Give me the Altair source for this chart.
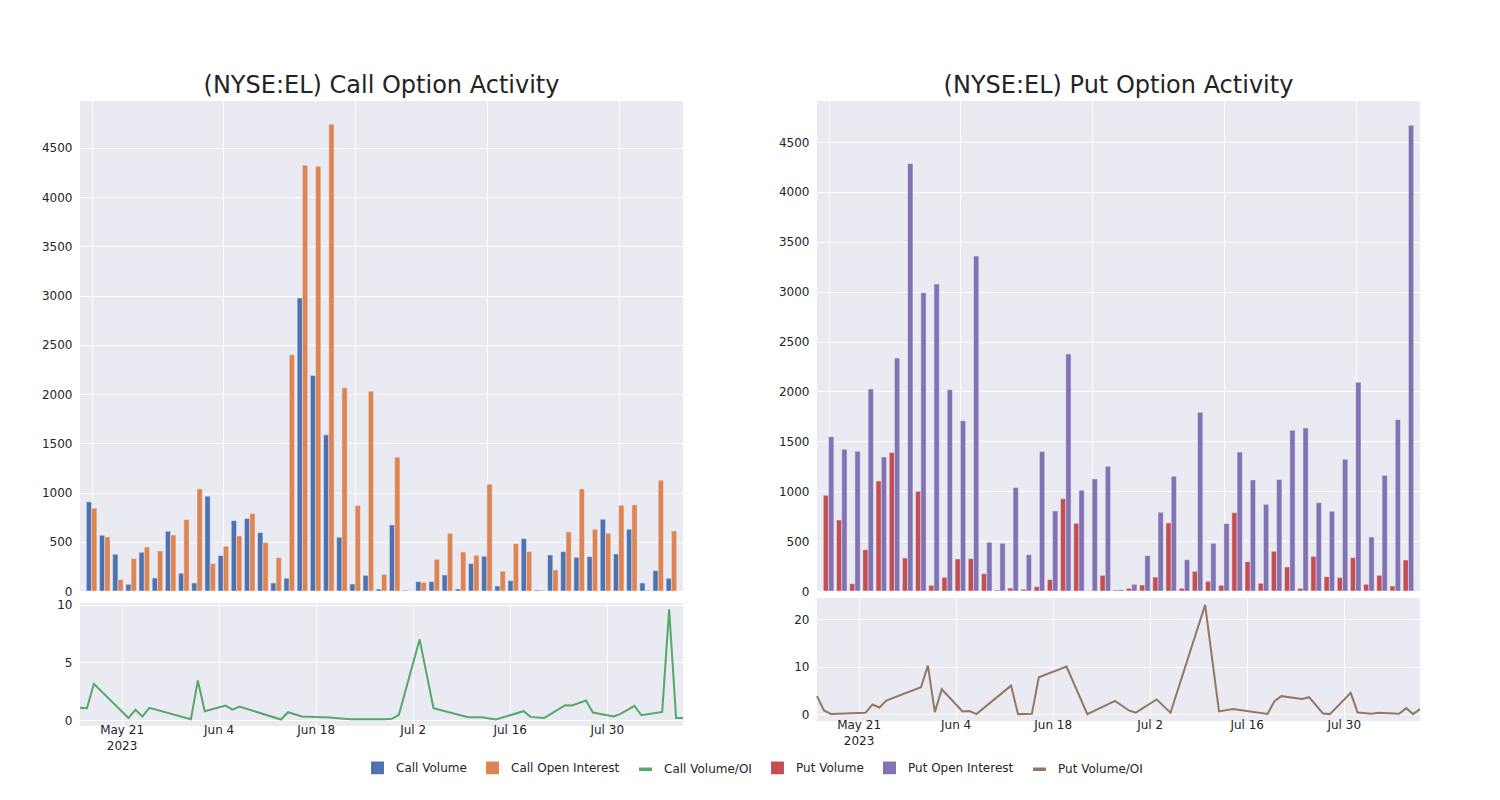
import altair as alt
import pandas as pd

FONT = "DejaVu Sans"
TXT = "#242424"

series_names = ["Call Volume", "Call Open Interest", "Call Volume/OI",
                "Put Volume", "Put Open Interest", "Put Volume/OI"]
series_colors = ["#4C72B0", "#DD8452", "#55A868", "#C44E52", "#8172B3", "#937860"]

call_volume = [905, 566, 373, 68, 393, 132, 607, 180, 81, 963, 359, 715, 736, 593, 81,
               129, 2976, 2190, 1586, 546, 71, 159, 20, 671, 7, 95, 95, 163, 20, 278,
               353, 51, 105, 532, 10, 366, 400, 342, 349, 729, 376, 627, 81, 207, 129]
call_oi = [841, 549, 115, 329, 447, 407, 569, 725, 1037, 278, 454, 559, 786, 492, 339,
           2400, 4325, 4315, 4742, 2064, 868, 2030, 169, 1359, 1, 88, 322, 586, 397, 363,
           1085, 200, 481, 400, 8, 214, 600, 1037, 627, 586, 871, 875, 8, 1125, 610]
put_volume = [959, 712, 73, 414, 1103, 1387, 331, 999, 57, 137, 321, 324, 174, 10, 30,
              17, 43, 114, 925, 678, 3, 157, 10, 27, 60, 140, 682, 27, 197, 97,
              57, 785, 294, 77, 398, 241, 27, 347, 144, 134, 334, 67, 157, 50, 311]
put_oi = [1547, 1420, 1400, 2025, 1343, 2335, 4283, 2990, 3077, 2018, 1707, 3358, 488, 478, 1036,
          364, 1397, 802, 2376, 1009, 1123, 1250, 13, 67, 354, 789, 1150, 314, 1791, 478,
          675, 1393, 1113, 869, 1116, 1610, 1634, 885, 799, 1320, 2092, 541, 1159, 1717, 4668]

call_ratio_dates = ["2023-05-15", "2023-05-16", "2023-05-17", "2023-05-22", "2023-05-23",
                    "2023-05-24", "2023-05-25", "2023-05-31", "2023-06-01", "2023-06-02",
                    "2023-06-05", "2023-06-06", "2023-06-07", "2023-06-13", "2023-06-14",
                    "2023-06-16", "2023-06-20", "2023-06-23", "2023-06-28", "2023-06-29",
                    "2023-06-30", "2023-07-03", "2023-07-05", "2023-07-10", "2023-07-12",
                    "2023-07-14", "2023-07-18", "2023-07-19", "2023-07-21", "2023-07-24",
                    "2023-07-25", "2023-07-27", "2023-07-28", "2023-07-31", "2023-08-01",
                    "2023-08-03", "2023-08-04", "2023-08-07", "2023-08-08", "2023-08-09",
                    "2023-08-10"]
call_ratio = [1.07, 1.04, 3.15, 0.2, 0.9, 0.32, 1.07, 0.08, 3.44, 0.78,
              1.27, 0.92, 1.18, 0.06, 0.69, 0.32, 0.23, 0.09, 0.09, 0.12,
              0.46, 7.0, 1.04, 0.26, 0.26, 0.06, 0.78, 0.29, 0.2, 1.3,
              1.27, 1.7, 0.66, 0.32, 0.55, 1.24, 0.43, 0.72, 9.6, 0.2, 0.2]

put_ratio_dates = ["2023-05-15", "2023-05-16", "2023-05-17", "2023-05-22", "2023-05-23",
                   "2023-05-24", "2023-05-25", "2023-05-30", "2023-05-31", "2023-06-01",
                   "2023-06-02", "2023-06-05", "2023-06-06", "2023-06-07", "2023-06-12",
                   "2023-06-13", "2023-06-15", "2023-06-16", "2023-06-20", "2023-06-23",
                   "2023-06-27", "2023-06-29", "2023-06-30", "2023-07-03", "2023-07-05",
                   "2023-07-10", "2023-07-12", "2023-07-14", "2023-07-19", "2023-07-20",
                   "2023-07-21", "2023-07-24", "2023-07-25", "2023-07-27", "2023-07-28",
                   "2023-07-31", "2023-08-01", "2023-08-03", "2023-08-04", "2023-08-07",
                   "2023-08-08", "2023-08-09", "2023-08-10"]
put_ratio = [3.78, 0.77, 0.05, 0.28, 2.03, 1.4, 2.87, 5.66, 10.2, 0.42,
             5.24, 0.56, 0.63, 0.0, 6.0, 0.0, 0.05, 7.76, 10.0, 0.0,
             2.8, 0.77, 0.3, 3.1, 0.3, 23.0, 0.56, 1.05, 0.05, 2.73,
             3.78, 3.2, 3.57, 0.14, 0.0, 4.48, 0.35, 0.1, 0.28, 0.07,
             1.26, 0.0, 1.05]

tick_dates = [(2023, 5, 21), (2023, 6, 4), (2023, 6, 18), (2023, 7, 2), (2023, 7, 16), (2023, 7, 30)]
bar_grid_idx = [0, 10, 20, 30, 40]
bar_ticks = [0, 500, 1000, 1500, 2000, 2500, 3000, 3500, 4000, 4500]

W = 603
H_TOP = 490
H_BOT = 123
GROUP = 0.8  # share of each category taken by its two bars

color_scale = alt.Scale(domain=series_names, range=series_colors)
legend = alt.Legend(
    title=None, orient="none", direction="horizontal", legendX=291, legendY=660,
    symbolSize=130, labelOffset=12, columnPadding=16,
    symbolType={"expr": "indexof(datum.value, 'OI') >= 0 ? 'M-1,-0.17H1V0.17H-1Z' : 'square'"},
    labelFont=FONT, labelFontSize=12, labelColor=TXT,
)


def bar_panel(vol, oi, names, top, title):
    n = len(vol)
    df = pd.DataFrame({
        "idx": list(range(n)) * 2,
        "k": [0] * n + [1] * n,
        "series": [names[0]] * n + [names[1]] * n,
        "value": vol + oi,
    })
    half = GROUP / 2
    return alt.Chart(df).transform_calculate(
        x0=f"datum.idx - {half} + datum.k * {half}",
        x1=f"datum.idx + datum.k * {half}",
    ).mark_bar(orient="vertical", stroke="#EAEAF2", strokeWidth=0.5).encode(
        x=alt.X("x0:Q", title=None,
                scale=alt.Scale(domain=[-0.5, n - 0.5], nice=False, zero=False),
                axis=alt.Axis(values=bar_grid_idx, labels=False, ticks=False, domain=False,
                              grid=True, labelPadding=0, minExtent=0, maxExtent=0)),
        x2="x1:Q",
        y=alt.Y("value:Q", title=None, scale=alt.Scale(domain=[0, top], nice=False),
                axis=alt.Axis(values=bar_ticks, format="d")),
        y2=alt.datum(0),
        color=alt.Color("series:N", scale=color_scale, legend=legend),
    ).properties(
        width=W, height=H_TOP,
        title=alt.TitleParams(title, font=FONT, fontSize=24, fontWeight="normal",
                              color=TXT, anchor="middle", frame="group", offset=3),
    )


def line_panel(dates, vals, name, ydom, yticks):
    df = pd.DataFrame({"date": pd.to_datetime(dates), "value": vals, "series": name})
    return alt.Chart(df).mark_line(strokeWidth=2).encode(
        x=alt.X("date:T", title=None, scale=alt.Scale(nice=False),
                axis=alt.Axis(values=[alt.DateTime(year=y, month=m, date=d) for y, m, d in tick_dates],
                              labelExpr="datum.index == 0 ? [timeFormat(datum.value, '%b %-d'), '2023'] : timeFormat(datum.value, '%b %-d')",
                              labelPadding=-2, labelFlush=False, labelOverlap=False)),
        y=alt.Y("value:Q", title=None, scale=alt.Scale(domain=ydom, nice=False, zero=False),
                axis=alt.Axis(values=yticks, format="d")),
        color=alt.Color("series:N", scale=color_scale, legend=legend),
    ).properties(width=W, height=H_BOT)


call_col = alt.vconcat(
    bar_panel(call_volume, call_oi, ["Call Volume", "Call Open Interest"], 4977,
              "(NYSE:EL) Call Option Activity"),
    line_panel(call_ratio_dates, call_ratio, "Call Volume/OI", [-0.5, 10.15], [0, 5, 10]),
    spacing=1,
)
put_col = alt.vconcat(
    bar_panel(put_volume, put_oi, ["Put Volume", "Put Open Interest"], 4911,
              "(NYSE:EL) Put Option Activity"),
    line_panel(put_ratio_dates, put_ratio, "Put Volume/OI", [-1.45, 24.45], [0, 10, 20]),
    spacing=1,
)

chart = alt.hconcat(call_col, put_col, spacing=91).resolve_scale(color="shared").properties(
    padding={"left": 33, "top": 66, "right": 5, "bottom": 5},
    background="white",
).configure_view(
    fill="#EAEAF2", stroke=None,
).configure_axis(
    labelFont=FONT, labelFontSize=12, labelColor=TXT, gridColor="white", gridWidth=1,
    domain=False, ticks=False, labelPadding=8, labelLineHeight=16,
).configure_legend(
    labelFont=FONT, labelFontSize=12, labelColor=TXT,
)

chart.save("out.html", embed_options={"renderer": "svg", "actions": False})
